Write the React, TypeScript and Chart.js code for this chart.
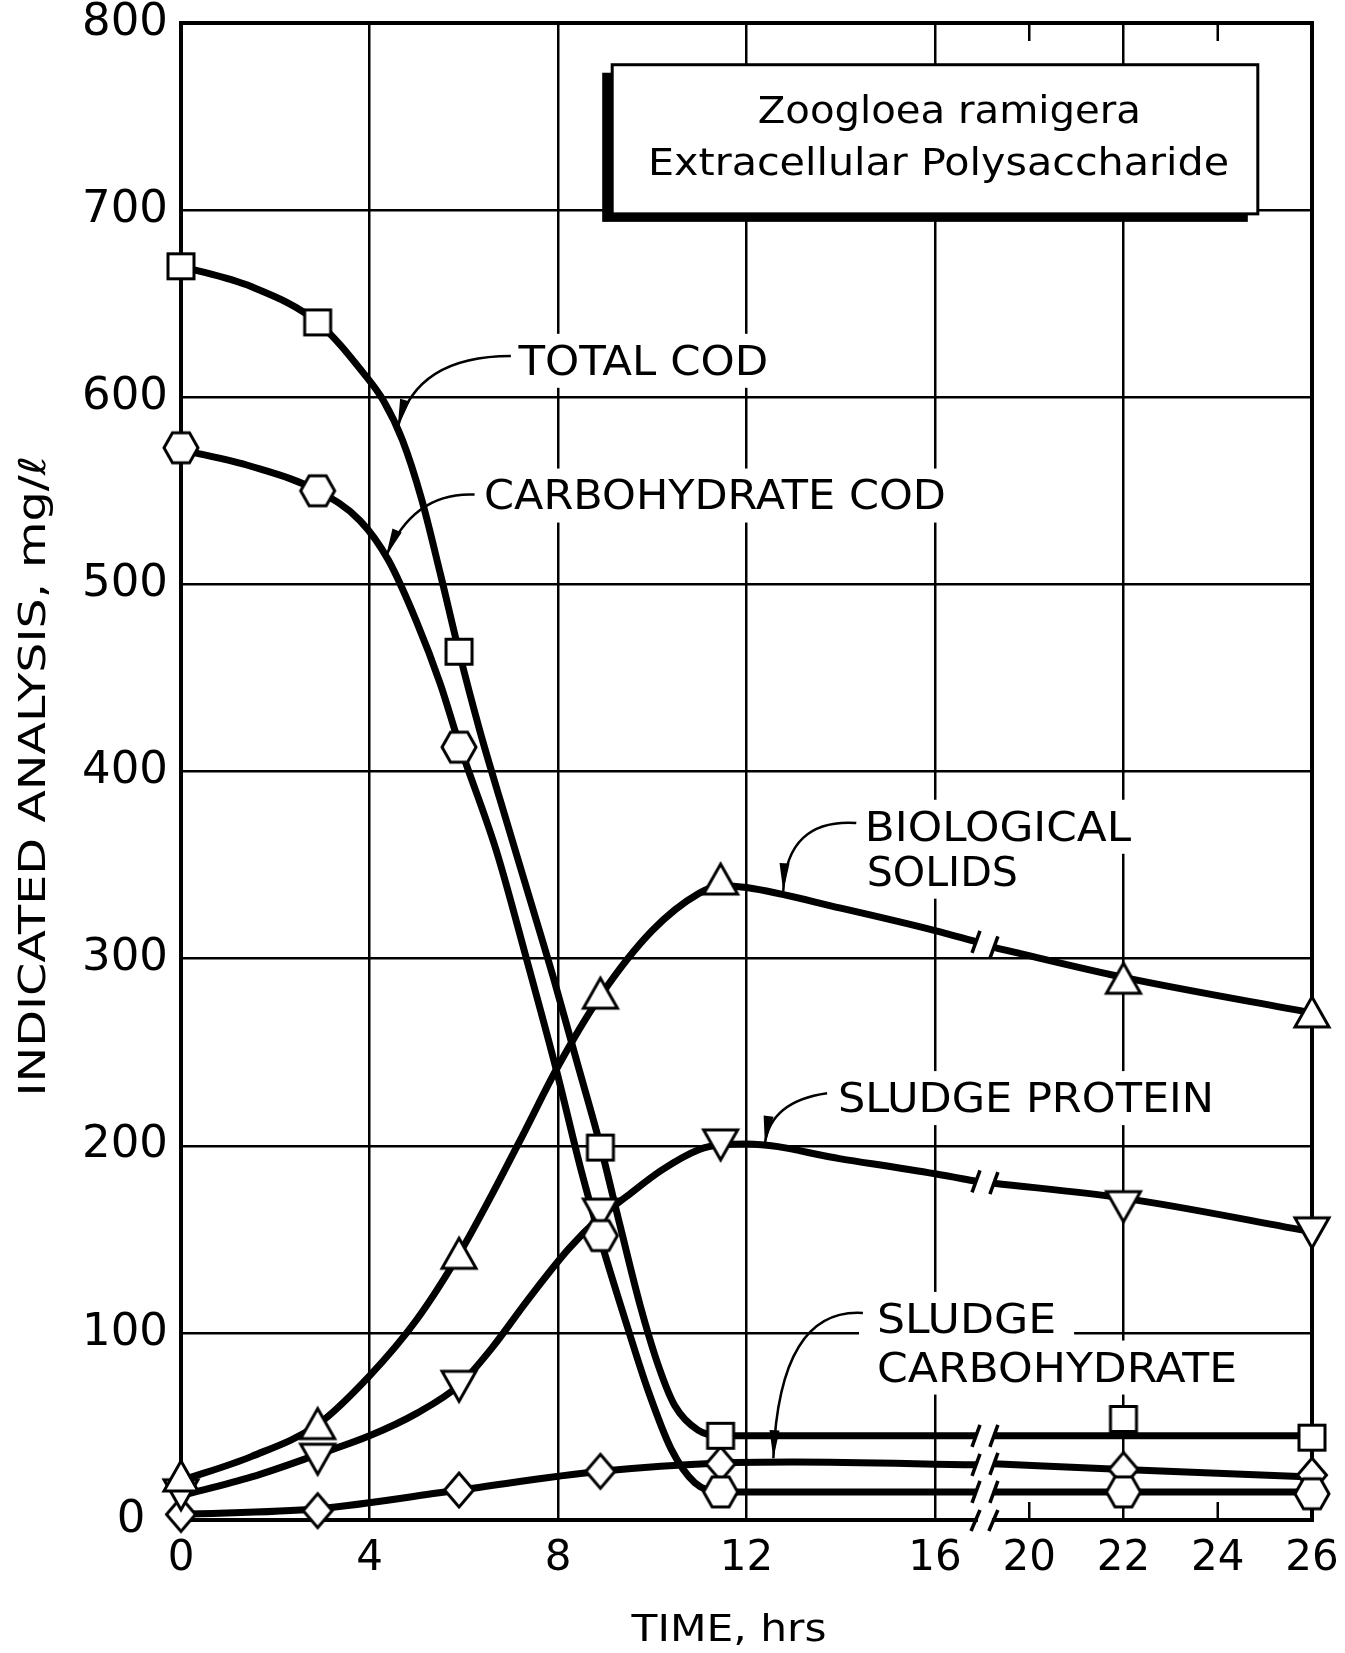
import React, { useEffect, useRef } from "react";
import { Chart, registerables } from "chart.js";

Chart.register(...registerables);

// ---------------- data (time in hours, values in mg/l) ----------------
const markerTimes = [0, 2.9, 5.9, 8.9, 11.45, 22, 26];
const totalCod = [670, 640, 464, 199, 45, 54, 44];
const carbohydrateCod = [573, 550, 413, 152, 15, 15, 14];
const biologicalSolids = [23, 51, 142, 281, 342, 289, 271];
const sludgeProtein = [14, 33, 72, 164, 201, 168, 154];
const sludgeCarbohydrate = [3, 5, 16, 26, 30, 27, 24];

// smooth hand-drawn curves (time, value)
const totalCodCurveT = [0, 1.5, 2.9, 3.9, 4.3, 4.7, 5.1, 5.5, 5.9, 6.35, 6.77, 7.33, 7.9, 8.4, 8.9, 9.32, 9.74, 10.15, 10.48, 10.97, 11.45, 14, 16.87, 19.25, 22, 26];
const totalCodCurveV = [670, 659, 640, 612, 598, 577, 546, 506, 464, 421, 385, 338, 290, 245, 200, 157, 115, 81, 61, 48, 45, 45, 45, 45, 45, 45];
const carbCodCurveT = [0, 1.5, 2.9, 3.8, 4.4, 5.0, 5.5, 5.9, 6.7, 7.33, 7.97, 8.5, 8.9, 9.5, 9.9, 10.4, 10.9, 11.45, 14, 16.87, 19.25, 22, 26];
const carbCodCurveV = [572, 563, 550, 534, 513, 480, 447, 415, 357, 300, 240, 186, 150, 101, 70, 38, 20, 15, 15, 15, 15, 15, 15];
const bioCurveT = [0, 1.5, 2.9, 4, 5, 5.9, 6.6, 7.3, 7.97, 8.9, 10, 11, 11.45, 12, 14, 16, 16.87, 19.25, 22, 26];
const bioCurveV = [21, 34, 51, 77, 107, 142, 174, 208, 241, 280, 315, 335, 339, 338, 327, 315, 309, 306, 290, 271];
const proteinCurveT = [0, 1.5, 2.9, 4, 5, 5.9, 6.6, 7.34, 8.23, 8.9, 9.46, 10.2, 11, 11.45, 12, 14, 16, 16.87, 19.25, 22, 26];
const proteinCurveV = [13, 23, 35, 45, 57, 72, 92, 117, 145, 162, 173, 187, 198, 200.5, 201, 193, 185, 181, 180, 172, 154];
const sludgeCarbCurveT = [0, 2.9, 5.9, 8.9, 11.45, 13, 16.87, 19.25, 22, 26];
const sludgeCarbCurveV = [3, 6, 16, 26, 30.5, 31, 29.5, 30, 27, 23];

// axis
const xTickTimes = [0, 4, 8, 12, 16, 20, 22, 24, 26];
const xGridTimes = [4, 8, 12, 16, 22];
const xShortTickTimes = [20, 24];
const yTickValues = [0, 100, 200, 300, 400, 500, 600, 700, 800];
const BREAK_START_T = 16.87; // curves and axis stop here
const BREAK_END_T = 19.25; // and resume here
const GAP_SHIFT = 2; // hours cut out of the axis by the break
const toPos = (t: number) => (t <= 17 ? t : t - GAP_SHIFT);

// annotation texts (anchored in axis units: position, value)
const labelLines = ["TOTAL COD", "CARBOHYDRATE COD", "BIOLOGICAL", "SOLIDS", "SLUDGE PROTEIN", "SLUDGE", "CARBOHYDRATE"];
const labelLeft = [7.16, 6.43, 14.51, 14.55, 13.94, 14.77, 14.77];
const labelRight = [12.46, 16.23, 20.16, 17.76, 21.92, 18.57, 22.41];
const labelValue = [620, 548, 371, 347, 226, 108, 82];

const arrowFrom = [[7.0, 622], [6.23, 548], [14.33, 372.5], [13.71, 228], [14.47, 110.6]];
const arrowVia = [[5.0, 622], [4.94, 549.5], [12.85, 374.9], [12.51, 223.7], [12.7, 113.4]];
const arrowTo = [[4.6, 584], [4.35, 515], [12.78, 336], [12.39, 201], [12.57, 33]];

const titleLines = ["Zoogloea ramigera", "Extracellular Polysaccharide"];
const titleLeft = [12.24, 9.91];
const titleRight = [20.37, 22.24];
const titleValue = [753.6, 725.8];
const boxPos = [9.15, 22.85]; // left, right
const boxVal = [777.7, 698]; // top, bottom

const FONT = '"DejaVu Sans", "Liberation Sans", sans-serif';

function fitText(ctx: CanvasRenderingContext2D, text: string, cx: number, cy: number, width: number, size: number) {
  ctx.save();
  ctx.font = `${size}px ${FONT}`;
  const w = ctx.measureText(text).width;
  ctx.translate(cx, cy);
  ctx.scale(width / w, 1);
  ctx.textAlign = "center";
  ctx.textBaseline = "alphabetic";
  ctx.fillStyle = "#000";
  ctx.fillText(text, 0, size * 0.3645);
  ctx.restore();
}

function makeMarker(kind: string): HTMLCanvasElement {
  const c = document.createElement("canvas");
  const S = 44;
  c.width = S;
  c.height = S;
  const g = c.getContext("2d")!;
  g.translate(S / 2, S / 2);
  g.beginPath();
  if (kind === "square") g.rect(-13, -12.5, 26, 25);
  else if (kind === "hexagon") {
    g.moveTo(-17, 0); g.lineTo(-8.5, -15); g.lineTo(8.5, -15); g.lineTo(17, 0); g.lineTo(8.5, 15); g.lineTo(-8.5, 15); g.closePath();
  } else if (kind === "up") {
    g.moveTo(0, -16); g.lineTo(17, 14); g.lineTo(-17, 14); g.closePath();
  } else if (kind === "down") {
    g.moveTo(0, 16); g.lineTo(17, -14); g.lineTo(-17, -14); g.closePath();
  } else {
    g.moveTo(0, -17); g.lineTo(14.5, 0); g.lineTo(0, 17); g.lineTo(-14.5, 0); g.closePath();
  }
  g.fillStyle = "#fff";
  g.fill();
  g.lineWidth = 3;
  g.strokeStyle = "#000";
  g.stroke();
  return c;
}

function curveSegment(ts: number[], vs: number[], after: boolean) {
  const out: { x: number; y: number }[] = [];
  ts.forEach((t, i) => {
    if (after ? t >= BREAK_END_T : t <= BREAK_START_T) out.push({ x: toPos(t), y: vs[i] });
  });
  return out;
}

const curveSets = [
  [totalCodCurveT, totalCodCurveV],
  [carbCodCurveT, carbCodCurveV],
  [bioCurveT, bioCurveV],
  [proteinCurveT, proteinCurveV],
  [sludgeCarbCurveT, sludgeCarbCurveV],
];

const decorations = {
  id: "decorations",
  beforeDatasetsDraw(chart: any) {
    const { ctx, chartArea: a } = chart;
    const xs = chart.scales.x;
    const ys = chart.scales.y;
    const px = (p: number) => xs.getPixelForValue(p);
    const py = (v: number) => ys.getPixelForValue(v);
    ctx.save();
    // white backgrounds behind labels
    ctx.fillStyle = "#fff";
    labelLines.forEach((_, i) => {
      const l = px(labelLeft[i]) - 18;
      const r = px(labelRight[i]) + 18;
      const c = py(labelValue[i]);
      ctx.fillRect(l, c - 26, r - l, 54);
    });
    // title box with shadow
    const bl = px(boxPos[0]), br = px(boxPos[1]), bt = py(boxVal[0]), bb = py(boxVal[1]);
    ctx.fillStyle = "#000";
    ctx.fillRect(bl - 10, bt + 8, br - bl, bb - bt);
    ctx.fillStyle = "#fff";
    ctx.fillRect(bl, bt, br - bl, bb - bt);
    ctx.lineWidth = 3;
    ctx.strokeStyle = "#000";
    ctx.strokeRect(bl, bt, br - bl, bb - bt);
    titleLines.forEach((t, i) => {
      const l = px(titleLeft[i]), r = px(titleRight[i]);
      fitText(ctx, t, (l + r) / 2, py(titleValue[i]), r - l, 37);
    });
    // short ticks at 20 and 24
    ctx.lineWidth = 2.5;
    xShortTickTimes.forEach((t) => {
      const x = px(toPos(t));
      ctx.beginPath();
      ctx.moveTo(x, a.top); ctx.lineTo(x, a.top + 18);
      ctx.moveTo(x, a.bottom); ctx.lineTo(x, a.bottom - 18);
      ctx.stroke();
    });
    // frame with break on the time axis
    ctx.lineWidth = 4;
    ctx.lineCap = "square";
    const bx1 = px(toPos(BREAK_START_T));
    const bx2 = px(toPos(BREAK_END_T));
    ctx.beginPath();
    ctx.moveTo(bx1, a.bottom); ctx.lineTo(a.left, a.bottom); ctx.lineTo(a.left, a.top);
    ctx.lineTo(a.right, a.top); ctx.lineTo(a.right, a.bottom); ctx.lineTo(bx2, a.bottom);
    ctx.stroke();
    ctx.lineCap = "butt";
    ctx.lineWidth = 3.5;
    [bx1, bx2].forEach((x) => {
      ctx.beginPath();
      ctx.moveTo(x - 5, a.bottom + 11);
      ctx.lineTo(x + 4, a.bottom - 10);
      ctx.stroke();
    });
    // label texts
    labelLines.forEach((t, i) => {
      const l = px(labelLeft[i]), r = px(labelRight[i]);
      fitText(ctx, t, (l + r) / 2, py(labelValue[i]), r - l, 41);
    });
    // arrows
    ctx.lineWidth = 2.5;
    ctx.fillStyle = "#000";
    arrowFrom.forEach((f, i) => {
      const x0 = px(f[0]), y0 = py(f[1]);
      const x1 = px(arrowVia[i][0]), y1 = py(arrowVia[i][1]);
      const x2 = px(arrowTo[i][0]), y2 = py(arrowTo[i][1]);
      ctx.beginPath();
      ctx.moveTo(x0, y0);
      ctx.quadraticCurveTo(x1, y1, x2, y2);
      ctx.stroke();
      const ang = Math.atan2(y2 - y1, x2 - x1);
      const L = 28, W = 5;
      const bxh = x2 - L * Math.cos(ang), byh = y2 - L * Math.sin(ang);
      ctx.beginPath();
      ctx.moveTo(x2, y2);
      ctx.lineTo(bxh + W * Math.sin(ang), byh - W * Math.cos(ang));
      ctx.lineTo(bxh - W * Math.sin(ang), byh + W * Math.cos(ang));
      ctx.closePath();
      ctx.fill();
    });
    ctx.restore();
  },
  afterDatasetsDraw(chart: any) {
    const { ctx } = chart;
    const xs = chart.scales.x;
    const ys = chart.scales.y;
    ctx.save();
    ctx.strokeStyle = "#000";
    ctx.lineWidth = 3.5;
    curveSets.forEach(([ts, vs]) => {
      const before = curveSegment(ts, vs, false);
      const after = curveSegment(ts, vs, true);
      [before[before.length - 1], after[0]].forEach((p) => {
        const x = xs.getPixelForValue(p.x);
        const y = ys.getPixelForValue(p.y);
        ctx.beginPath();
        ctx.moveTo(x - 4, y + 11);
        ctx.lineTo(x + 4, y - 11);
        ctx.stroke();
      });
    });
    ctx.restore();
  },
  afterDraw(chart: any) {
    const { ctx } = chart;
    ctx.save();
    ctx.translate(32, 776);
    ctx.rotate(-Math.PI / 2);
    fitText(ctx, "INDICATED ANALYSIS, mg/\u2113", 0, 0, 641, 37);
    ctx.restore();
    fitText(ctx, "TIME, hrs", 729, 1627, 195, 38);
  },
};

export default function App() {
  const ref = useRef<HTMLCanvasElement>(null);
  useEffect(() => {
    document.body.style.margin = "0";
    const canvas = ref.current!;
    const shapes = ["square", "hexagon", "up", "down", "diamond"];
    const markerValues = [totalCod, carbohydrateCod, biologicalSolids, sludgeProtein, sludgeCarbohydrate];
    const datasets: any[] = [];
    markerValues.forEach((vals, s) => {
      const img = makeMarker(shapes[s]);
      datasets.push({
        data: markerTimes.map((t, i) => ({ x: toPos(t), y: vals[i] })),
        showLine: false,
        pointStyle: img,
        pointRadius: 15,
        pointHoverRadius: 15,
        order: 0,
        clip: false,
      });
      const [ts, vs] = curveSets[s];
      [false, true].forEach((after) => {
        datasets.push({
          data: curveSegment(ts, vs, after),
          borderColor: "#000",
          borderWidth: 7,
          pointRadius: 0,
          pointHoverRadius: 0,
          fill: false,
          cubicInterpolationMode: "monotone",
          borderCapStyle: "butt",
          borderJoinStyle: "round",
          order: 1,
          clip: false,
        });
      });
    });
    const xTickPos = xTickTimes.map(toPos);
    const xGridPos = xGridTimes.map(toPos);
    const chart = new Chart(canvas, {
      type: "line",
      data: { datasets },
      plugins: [decorations],
      options: {
        responsive: false,
        maintainAspectRatio: false,
        animation: false,
        devicePixelRatio: 1,
        events: [],
        layout: { padding: { top: 23, right: 33, left: 0, bottom: 0 } },
        plugins: { legend: { display: false }, tooltip: { enabled: false } },
        scales: {
          x: {
            type: "linear",
            min: 0,
            max: toPos(26),
            afterBuildTicks: (s: any) => {
              s.ticks = xTickPos.map((v) => ({ value: v }));
            },
            afterFit: (s: any) => {
              s.height = 133;
              s.paddingLeft = 0;
              s.paddingRight = 0;
            },
            ticks: {
              callback: (_v: any, i: number) => String(xTickTimes[i]),
              font: { family: FONT, size: 42 },
              color: "#000",
              padding: 14,
              autoSkip: false,
              maxRotation: 0,
            },
            grid: {
              color: (c: any) => (c.tick && xGridPos.includes(c.tick.value) ? "#000" : "rgba(0,0,0,0)"),
              lineWidth: 2.5,
              drawTicks: false,
            },
            border: { display: false },
          },
          y: {
            min: 0,
            max: 800,
            afterBuildTicks: (s: any) => {
              s.ticks = yTickValues.map((v) => ({ value: v }));
            },
            afterFit: (s: any) => {
              s.width = 181;
              s.paddingTop = 0;
              s.paddingBottom = 0;
            },
            ticks: {
              callback: (v: any) => (v === 0 ? "0\u2002" : String(v)),
              font: { family: FONT, size: 45 },
              color: "#000",
              padding: 13,
            },
            grid: {
              color: (c: any) => (c.tick && c.tick.value === 0 ? "rgba(0,0,0,0)" : "#000"),
              lineWidth: 2.5,
              drawTicks: false,
            },
            border: { display: false },
          },
        },
      } as any,
    });
    return () => chart.destroy();
  }, []);
  return (
    <div style={{ width: 1345, height: 1653, background: "#fff" }}>
      <canvas ref={ref} width={1345} height={1653} style={{ display: "block", width: 1345, height: 1653 }} />
    </div>
  );
}
